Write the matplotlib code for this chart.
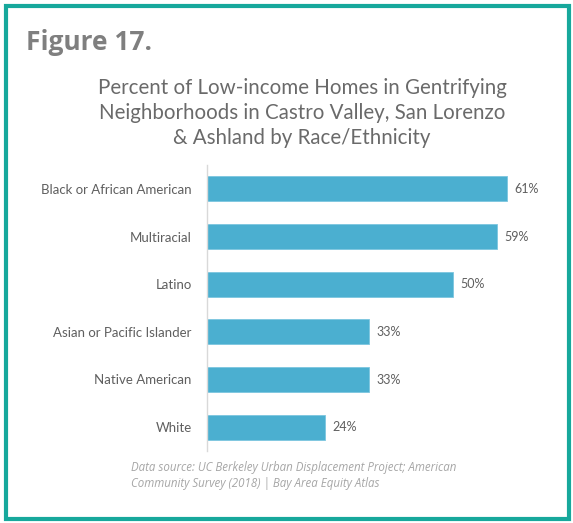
"""Horizontal bar chart: low-income homes in gentrifying neighborhoods by race/ethnicity."""

import matplotlib.pyplot as plt
from matplotlib.patches import Rectangle

categories = [
    "Black or African American",
    "Multiracial",
    "Latino",
    "Asian or Pacific Islander",
    "Native American",
    "White",
]
percent = [61, 59, 50, 33, 33, 24]

W, H = 573, 523
BAR_COLOR = "#4bafd0"
TEXT_GRAY = "#5f5f5f"
FRAME_TEAL = "#17a89c"

plt.rcParams["font.family"] = ["Lato", "DejaVu Sans"]

fig = plt.figure(figsize=(W / 100, H / 100), dpi=100)


def px(x0, y0, x1, y1):
    # pixel box (top-left origin) -> figure fraction rect
    return [x0 / W, 1 - y1 / H, (x1 - x0) / W, (y1 - y0) / H]


# teal frame around the whole figure
fig.patches.append(Rectangle((6 / W, 4 / H), (W - 10) / W, (H - 10) / H,
                             transform=fig.transFigure, fill=False,
                             edgecolor=FRAME_TEAL, linewidth=3))

fig.text(26 / W, 1 - 42 / H, "Figure 17.", fontsize=19, fontweight="bold",
         color="#7f7f7f", ha="left", va="center", family=["Open Sans", "DejaVu Sans"])

fig.text(302 / W, 1 - 113 / H,
         "Percent of Low-income Homes in Gentrifying\n"
         "Neighborhoods in Castro Valley, San Lorenzo\n"
         "& Ashland by Race/Ethnicity",
         fontsize=14.8, color="#6a6a6a", ha="center", va="center", linespacing=1.33)

ax = fig.add_axes(px(207, 165, 527, 451))
y = list(range(len(categories)))
ax.barh(y, percent, height=0.53, color=BAR_COLOR, edgecolor="#7cc6df", linewidth=0.6)
ax.set_ylim(len(categories) - 0.5, -0.5)
ax.set_xlim(0, 65)
ax.set_yticks(y)
ax.set_yticklabels(categories, fontsize=9.5, color=TEXT_GRAY)
ax.tick_params(axis="y", length=0, pad=11)
ax.set_xticks([])
for side in ("top", "right", "bottom"):
    ax.spines[side].set_visible(False)
ax.spines["left"].set_color("#d9d9d9")
ax.spines["left"].set_linewidth(1)

for yi, v in zip(y, percent):
    ax.annotate(f"{v}%", (v, yi), xytext=(5, 0), textcoords="offset points",
                ha="left", va="center", fontsize=9, color=TEXT_GRAY)

fig.text(131 / W, 1 - 475 / H,
         "Data source: UC Berkeley Urban Displacement Project; American\n"
         "Community Survey (2018) | Bay Area Equity Atlas",
         fontsize=8.3, style="italic", color="#a6a6a6", ha="left", va="center",
         linespacing=1.3, family=["Open Sans", "DejaVu Sans"])

fig.savefig("out.png", dpi=100)
